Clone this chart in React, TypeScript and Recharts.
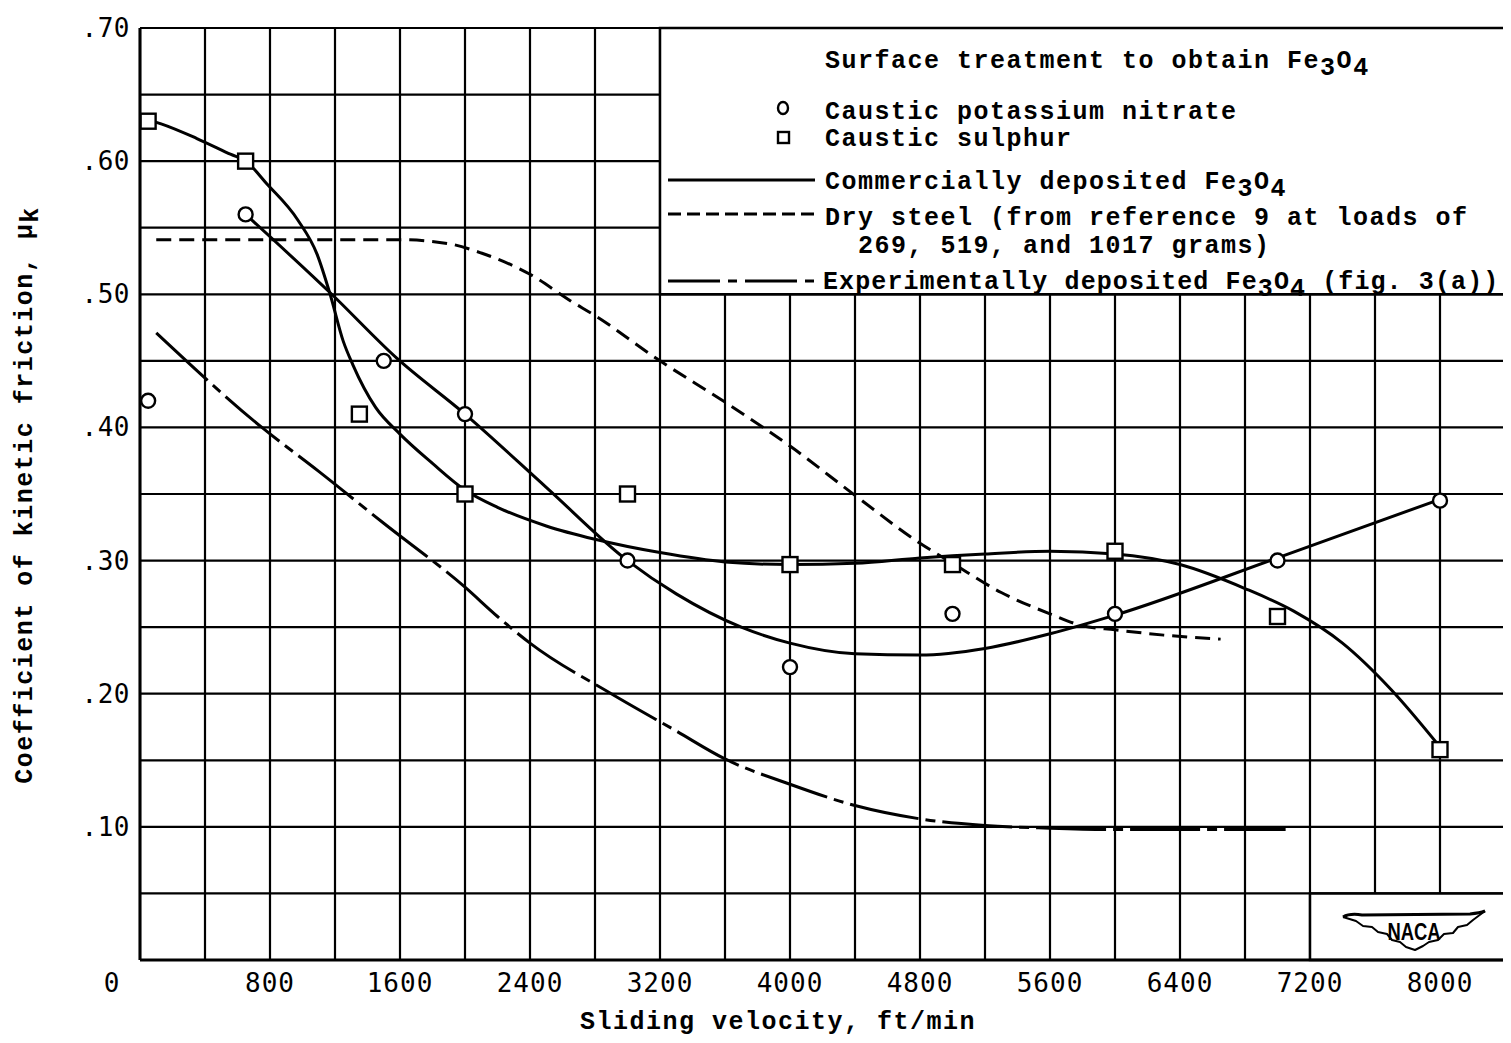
import React from 'react';
import {
  ComposedChart,
  Line,
  Scatter,
  XAxis,
  YAxis,
  CartesianGrid,
  ReferenceArea,
  Legend,
} from 'recharts';

// ---- axis ticks -------------------------------------------------------
const xGridTicks = [0, 400, 800, 1200, 1600, 2000, 2400, 2800, 3200, 3600, 4000, 4400, 4800, 5200, 5600, 6000, 6400, 6800, 7200, 7600, 8000, 8400];
const xLabelValues = [0, 800, 1600, 2400, 3200, 4000, 4800, 5600, 6400, 7200, 8000];
const xLabelTexts = ['0', '800', '1600', '2400', '3200', '4000', '4800', '5600', '6400', '7200', '8000'];
const yGridTicks = [0, 0.05, 0.1, 0.15, 0.2, 0.25, 0.3, 0.35, 0.4, 0.45, 0.5, 0.55, 0.6, 0.65, 0.7];
const yLabelValues = [0.1, 0.2, 0.3, 0.4, 0.5, 0.6, 0.7];
const yLabelTexts = ['.10', '.20', '.30', '.40', '.50', '.60', '.70'];

// ---- measured points --------------------------------------------------
// Caustic potassium nitrate (circles)
const nitrateVelocity = [50, 650, 1500, 2000, 3000, 4000, 5000, 6000, 7000, 8000];
const nitrateMu = [0.42, 0.56, 0.45, 0.41, 0.30, 0.22, 0.26, 0.26, 0.30, 0.345];
// Caustic sulphur (squares)
const sulphurVelocity = [50, 650, 1350, 2000, 3000, 4000, 5000, 6000, 7000, 8000];
const sulphurMu = [0.63, 0.60, 0.41, 0.35, 0.35, 0.297, 0.297, 0.307, 0.258, 0.158];

// ---- faired curves ----------------------------------------------------
// Commercially deposited Fe3O4, curve through the sulphur-treated points
const sulphurFitVelocity = [50, 130, 350, 560, 650, 780, 970, 1090, 1170, 1250, 1310, 1450, 1600, 1800, 2000, 2200, 2500, 2800, 3200, 3600, 4000, 4400, 4800, 5200, 5600, 6000, 6400, 6800, 7100, 7400, 7700, 8000];
const sulphurFitMu = [0.631, 0.628, 0.617, 0.605, 0.60, 0.583, 0.556, 0.53, 0.50, 0.465, 0.447, 0.415, 0.395, 0.373, 0.353, 0.34, 0.326, 0.316, 0.306, 0.299, 0.297, 0.298, 0.302, 0.305, 0.307, 0.305, 0.297, 0.279, 0.262, 0.238, 0.203, 0.16];
// Commercially deposited Fe3O4, curve through the nitrate-treated points
const nitrateFitVelocity = [650, 1180, 1580, 2000, 2500, 3000, 3300, 3700, 4000, 4400, 4800, 5200, 5600, 6000, 7000, 8000];
const nitrateFitMu = [0.56, 0.50, 0.452, 0.41, 0.355, 0.30, 0.275, 0.25, 0.238, 0.23, 0.229, 0.234, 0.245, 0.259, 0.302, 0.346];
// Dry steel (reference 9)
const drySteelVelocity = [100, 800, 1600, 1900, 2100, 2400, 2650, 2800, 3200, 3600, 4000, 4400, 4800, 5000, 5300, 5600, 5800, 6000, 6300, 6650];
const drySteelMu = [0.541, 0.541, 0.541, 0.538, 0.531, 0.515, 0.495, 0.484, 0.45, 0.419, 0.386, 0.349, 0.313, 0.298, 0.276, 0.26, 0.251, 0.248, 0.244, 0.241];
// Experimentally deposited Fe3O4, fig. 3(a)
const experimentalVelocity = [100, 750, 1100, 1500, 2000, 2200, 2400, 2900, 3300, 3600, 4000, 4400, 4800, 5200, 5600, 6000, 7050];
const experimentalMu = [0.471, 0.40, 0.367, 0.328, 0.28, 0.258, 0.238, 0.20, 0.172, 0.151, 0.132, 0.116, 0.106, 0.101, 0.099, 0.098, 0.098];

const zip = (vs: number[], ms: number[]) => vs.map((v, i) => ({ v, mu: ms[i] }));

const nitratePoints = zip(nitrateVelocity, nitrateMu);
const sulphurPoints = zip(sulphurVelocity, sulphurMu);
const sulphurFit = zip(sulphurFitVelocity, sulphurFitMu);
const nitrateFit = zip(nitrateFitVelocity, nitrateFitMu);
const drySteel = zip(drySteelVelocity, drySteelMu);
const experimental = zip(experimentalVelocity, experimentalMu);

// ---- styling ----------------------------------------------------------
const TYPE_FONT = "'Liberation Mono', 'Courier New', monospace";
const TICK_FONT = "'DejaVu Sans Mono', monospace";
const INK = '#000';
const DRY_DASH = '15 8';
const EXP_DASH = '70 7 10 7';
const CURVE_W = 3;

const W = 1503;
const H = 1035;

const typeText = {
  fontFamily: TYPE_FONT,
  fontWeight: 700,
  fontSize: 25,
  letterSpacing: 1.5,
  fill: INK,
};

const XTick = (props: any) => {
  const { x, y, payload } = props;
  const v = payload.value;
  const i = xLabelValues.indexOf(v);
  if (i < 0) return <g />;
  return (
    <text
      x={v === 0 ? x - 28 : x}
      y={y + 23}
      textAnchor="middle"
      dominantBaseline="central"
      fontFamily={TICK_FONT}
      fontSize={26}
      letterSpacing={1}
      fill={INK}
    >
      {xLabelTexts[i]}
    </text>
  );
};

const YTick = (props: any) => {
  const { x, y, payload } = props;
  const i = yLabelValues.findIndex((t) => Math.abs(t - payload.value) < 1e-6);
  if (i < 0) return <g />;
  return (
    <text
      x={x - 10}
      y={y}
      textAnchor="end"
      dominantBaseline="central"
      fontFamily={TICK_FONT}
      fontSize={26}
      letterSpacing={0.5}
      fill={INK}
    >
      {yLabelTexts[i]}
    </text>
  );
};

const CircleMark = (props: any) => (
  <circle cx={props.cx} cy={props.cy} r={7} fill="#fff" stroke={INK} strokeWidth={2.4} />
);
const SquareMark = (props: any) => (
  <rect x={props.cx - 7.5} y={props.cy - 7.5} width={15} height={15} fill="#fff" stroke={INK} strokeWidth={2.4} />
);

const Fe3O4 = ({ after = '' }: { after?: string }) => (
  <>
    <tspan>Fe</tspan>
    <tspan dy={7}>3</tspan>
    <tspan dy={-7}>O</tspan>
    <tspan dy={7}>4</tspan>
    <tspan dy={-7}>{after}</tspan>
  </>
);

const KeyAndTitles = () => (
  <svg width={W} height={H} style={{ display: 'block', overflow: 'hidden' }}>
    {/* key */}
    <text x={817} y={60} {...typeText}>
      Surface treatment to obtain <Fe3O4 />
    </text>
    <ellipse cx={775} cy={100} rx={5} ry={6} fill="#fff" stroke={INK} strokeWidth={2.4} />
    <text x={817} y={111} {...typeText}>Caustic potassium nitrate</text>
    <rect x={770} y={124} width={11} height={11} fill="#fff" stroke={INK} strokeWidth={2.4} />
    <text x={817} y={138} {...typeText}>Caustic sulphur</text>

    <line x1={660} x2={807} y1={172} y2={172} stroke={INK} strokeWidth={CURVE_W} />
    <text x={817} y={181} {...typeText}>
      Commercially deposited <Fe3O4 />
    </text>

    <line x1={660} x2={807} y1={206} y2={206} stroke={INK} strokeWidth={CURVE_W} strokeDasharray="13 6" />
    <text x={817} y={217} {...typeText}>Dry steel (from reference 9 at loads of</text>
    <text x={850} y={245} {...typeText}>269, 519, and 1017 grams)</text>

    <line x1={660} x2={807} y1={273} y2={273} stroke={INK} strokeWidth={CURVE_W} strokeDasharray="52 8 9 8" />
    <text x={815} y={281} {...typeText} letterSpacing={1.1}>
      Experimentally deposited <Fe3O4 after=" (fig. 3(a))" />
    </text>

    {/* axis titles */}
    <text x={770} y={1021} textAnchor="middle" {...typeText}>
      Sliding velocity, ft/min
    </text>
    <text x={24} y={487} textAnchor="middle" transform="rotate(-90 24 487)" {...typeText}>
      Coefficient of kinetic friction, μ<tspan dy={6}>k</tspan>
    </text>

    {/* NACA emblem */}
    <g stroke={INK} strokeWidth={2} fill="none" strokeLinejoin="round">
      <path d="M1335 909 Q1342 905 1354 907 L1462 906 Q1472 905 1477 903" strokeWidth={3} />
      <path d="M1335 909 L1348 913 L1355 918 L1364 919 L1370 924 L1379 926 L1384 932 L1392 934 L1398 939 L1407 942 L1415 938 L1421 934 L1430 932 L1436 926 L1445 925 L1450 919 L1459 917 L1465 912 L1477 903" />
    </g>
    <text
      x={1406}
      y={932}
      textAnchor="middle"
      fontFamily="'Liberation Sans', Arial, sans-serif"
      fontWeight={700}
      fontSize={23}
      transform="translate(1406 0) scale(0.8 1) translate(-1406 0)"
      fill={INK}
    >
      NACA
    </text>
  </svg>
);

export default function App() {
  return (
    <ComposedChart width={W} height={H} margin={{ top: 20, right: 6, bottom: 23, left: 72 }}>
      <CartesianGrid stroke={INK} strokeWidth={2.2} />
      <XAxis
        type="number"
        dataKey="v"
        domain={[0, 8400]}
        ticks={xGridTicks}
        interval={0}
        allowDataOverflow
        height={60}
        tickLine={false}
        tickSize={0}
        tickMargin={0}
        axisLine={{ stroke: INK, strokeWidth: 3 }}
        tick={<XTick />}
      />
      <YAxis
        type="number"
        dataKey="mu"
        domain={[0, 0.7]}
        ticks={yGridTicks}
        interval={0}
        allowDataOverflow
        width={60}
        tickLine={false}
        tickSize={0}
        tickMargin={0}
        axisLine={{ stroke: INK, strokeWidth: 3 }}
        tick={<YTick />}
      />
      <ReferenceArea x1={3200} x2={8400} y1={0.5} y2={0.7} fill="#fff" fillOpacity={1} stroke={INK} strokeWidth={2.5} />
      <ReferenceArea x1={7200} x2={8400} y1={0} y2={0.05} fill="#fff" fillOpacity={1} stroke={INK} strokeWidth={2.5} />

      <Line data={experimental} dataKey="mu" type="monotone" stroke={INK} strokeWidth={CURVE_W} strokeDasharray={EXP_DASH} dot={false} isAnimationActive={false} />
      <Line data={drySteel} dataKey="mu" type="monotone" stroke={INK} strokeWidth={CURVE_W} strokeDasharray={DRY_DASH} dot={false} isAnimationActive={false} />
      <Line data={sulphurFit} dataKey="mu" type="monotone" stroke={INK} strokeWidth={CURVE_W} dot={false} isAnimationActive={false} />
      <Line data={nitrateFit} dataKey="mu" type="monotone" stroke={INK} strokeWidth={CURVE_W} dot={false} isAnimationActive={false} />

      <Scatter data={nitratePoints} dataKey="mu" shape={<CircleMark />} isAnimationActive={false} />
      <Scatter data={sulphurPoints} dataKey="mu" shape={<SquareMark />} isAnimationActive={false} />

      <Legend
        layout="horizontal"
        verticalAlign="middle"
        align="center"
        wrapperStyle={{ left: 0, top: 0, width: W, height: H, pointerEvents: 'none' }}
        content={() => <KeyAndTitles />}
      />
    </ComposedChart>
  );
}
